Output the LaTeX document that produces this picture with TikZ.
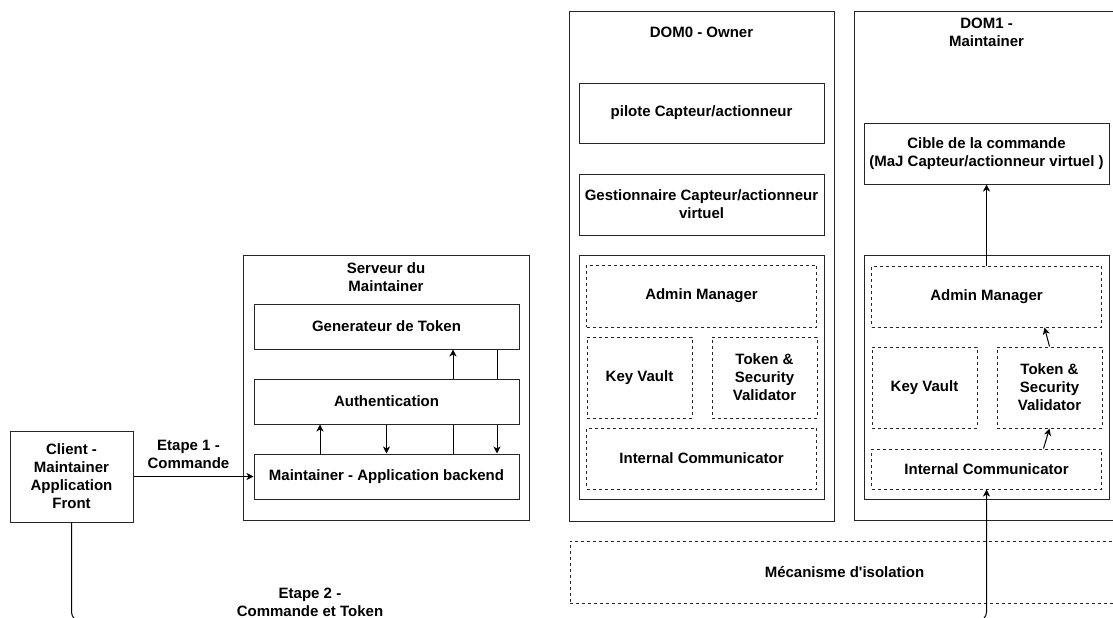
\documentclass[tikz,border=0pt]{standalone}
\usepackage{fontspec}
\setmainfont{Liberation Sans}
\usetikzlibrary{shapes,arrows.meta,positioning,calc}
\tikzstyle{box} = [draw=black!85, fill=white, line width=1pt, rectangle, align=center, text centered, inner sep=0pt]
\tikzstyle{dashbox} = [box, dash pattern=on 3pt off 3pt]
\tikzstyle{container} = [draw=black!85, line width=1pt, rectangle, inner sep=0pt]
\tikzstyle{title} = [align=center, inner sep=0pt]
\tikzstyle{line} = [draw, line width=1pt, -{Stealth[length=7pt, width=7pt, inset=2pt]}]
\pgfdeclarelayer{background}
\pgfsetlayers{background,main}

\begin{document}
\begin{tikzpicture}[x=1pt, y=-1pt, font=\fontsize{15}{18}\selectfont\bfseries]
    \useasboundingbox (0,0) rectangle (1113,618);
    \clip (0,0) rectangle (1113,618);

    % client
    \node [box, minimum width=123, minimum height=91] (client) at (71.5,476.5) {Client -\\Maintainer\\Application\\Front};

    % serveur du maintainer
    \node [container, minimum width=286, minimum height=265] (serveur) at (386,387.5) {};
    \node [title, below=8pt of serveur.north] (serveur-title) {Serveur du\\Maintainer};
    \node [box, minimum width=265, minimum height=45] (gen) at (386.5,326.5) {Generateur de Token};
    \node [box, minimum width=265, minimum height=45] (auth) at (386.5,401.5) {Authentication};
    \node [box, minimum width=265, minimum height=45] (backend) at (386.5,476.5) {Maintainer - Application backend};

    % dom0
    \node [container, minimum width=265, minimum height=509] (dom0) at (701.5,266.5) {};
    \node [title, below=15pt of dom0.north] (dom0-title) {DOM0 - Owner};
    \node [box, minimum width=245, minimum height=60] (pilote) at (701.5,113) {pilote Capteur/actionneur};
    \node [box, minimum width=245, minimum height=61] (gest) at (701.5,204.5) {Gestionnaire Capteur/actionneur\\virtuel};
    \node [box, minimum width=245, minimum height=244] (sec0) at (701.5,377) {};
    \node [dashbox, minimum width=230, minimum height=62] (admin0) at (701.5,296) {Admin Manager};
    \node [dashbox, minimum width=105, minimum height=81] (kv0) at (639.5,377.5) {Key Vault};
    \node [dashbox, minimum width=105, minimum height=81] (tok0) at (764.5,377.5) {Token \&\\Security\\Validator};
    \node [dashbox, minimum width=230, minimum height=61] (ic0) at (701.5,458.5) {Internal Communicator};

    % dom1
    \node [container, minimum width=265, minimum height=508] (dom1) at (986.5,266) {};
    \node [title, below=6pt of dom1.north] (dom1-title) {DOM1 -\\Maintainer};
    \node [box, minimum width=245, minimum height=61] (cible) at (986.5,153.5) {Cible de la commande\\(MaJ Capteur/actionneur virtuel )};
    \node [box, minimum width=245, minimum height=244] (sec1) at (986.5,377) {};
    \node [dashbox, minimum width=230, minimum height=61] (admin1) at (986.5,296.5) {Admin Manager};
    \node [dashbox, minimum width=105, minimum height=81] (kv1) at (924.5,387.5) {Key Vault};
    \node [dashbox, minimum width=105, minimum height=81] (tok1) at (1049.5,387.5) {Token \&\\Security\\Validator};
    \node [dashbox, minimum width=230, minimum height=40] (ic1) at (986.5,469) {Internal Communicator};

    % isolation
    \node [container, dash pattern=on 3pt off 3pt, minimum width=549, minimum height=62] (iso) at (844.5,572) {M\'ecanisme d\textquotesingle isolation};

    \path [line](client) -- node [title, above=7pt, xshift=-5pt] (step1) {Etape 1 -\\Commande} (backend);
    \path [line]([xshift=-66.5pt]backend.north) -- ([xshift=-66.5pt]auth.south);
    \path [line](auth) -- (backend);
    \path [line](admin1) -- (cible);
    \path [line]([xshift=57pt]ic1.north) -- (tok1.south);
    \path [line](tok1.north) -- ([xshift=58pt]admin1.south);

    \coordinate (bend) at (0,621);
    \path [line, rounded corners=9pt](client.south) -- (client.south |- bend) -| (ic1.south);
    \node [title] (step2) at (310,602) {Etape 2 -\\Commande et Token};

    \begin{pgfonlayer}{background}
       \path [line]([xshift=66.5pt]backend.north) -- ([xshift=66.5pt]gen.south);
       \path [line]([xshift=110.5pt]gen.south) -- ([xshift=110.5pt]backend.north);
    \end{pgfonlayer}
\end{tikzpicture}
\end{document}
